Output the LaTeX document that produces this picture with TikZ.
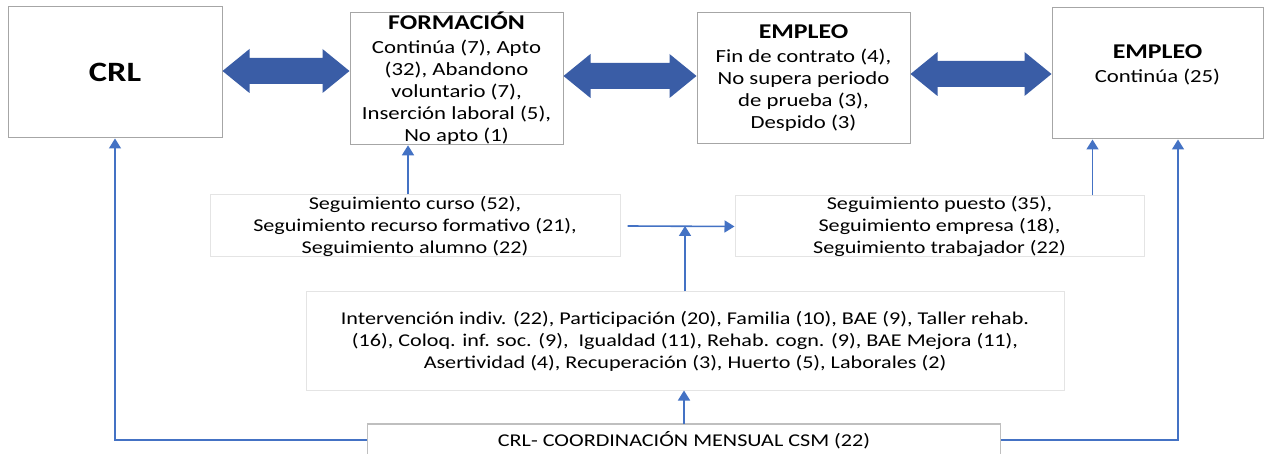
\documentclass[tikz,border=0pt]{standalone}
\usepackage{fontspec}
\setmainfont{Carlito}[FakeStretch=1.23]
\usetikzlibrary{calc,arrows.meta}
\definecolor{arrowblue}{HTML}{3A5DA6}
\definecolor{connblue}{HTML}{4472C4}
\definecolor{boxgray}{HTML}{A6A6A6}
\definecolor{lightgray}{HTML}{E4E4E4}
\definecolor{botgray}{HTML}{BFBFBF}
\newcommand\DblArr[2]{\fill[bigarrow] let \p1=(#1), \p2=(#2) in
  (\x1,\y1) -- (\x1+27pt,\y1+22pt) -- (\x1+27pt,\y1+13pt) -- (\x2-27pt,\y1+13pt) --
  (\x2-27pt,\y1+22pt) -- (\x2,\y1) -- (\x2-27pt,\y1-22pt) -- (\x2-27pt,\y1-13pt) --
  (\x1+27pt,\y1-13pt) -- (\x1+27pt,\y1-22pt) -- cycle;}
\begin{document}
\begin{tikzpicture}[x=1pt,y=-1pt,
  topbox/.style={draw=boxgray, line width=1pt, fill=white, inner sep=0pt, align=center,
     font=\fontsize{18.5}{22}\selectfont},
  lightbox/.style={draw=lightgray, line width=1pt, fill=white, inner sep=0pt, align=center,
     font=\fontsize{18}{22}\selectfont},
  botbox/.style={draw=botgray, line width=1.5pt, fill=white, inner sep=0pt, align=center,
     font=\fontsize{18}{22}\selectfont},
  bigarrow/.style={fill=arrowblue},
  conn/.style={draw=connblue, line width=1.6pt, -{Triangle[length=10pt,width=12pt]}},
  ttl/.style={font=\fontsize{21}{22}\selectfont\bfseries}
]
\useasboundingbox (0,0) rectangle (1269,454);
\fill[white] (0,0) rectangle (1269,454);

% top row
\node[topbox, minimum width=214pt, minimum height=131pt] (crl) at (115,72.5)
  {\fontsize{28}{30}\selectfont\bfseries CRL};
\node[topbox, minimum width=213pt, minimum height=131pt] (form) at (456.5,78.5)
  {{\fontsize{21}{22}\selectfont\bfseries FORMACIÓN}\\[2pt]
   Continúa (7), Apto\\(32), Abandono\\voluntario (7),\\Inserción laboral (5),\\No apto (1)};
\node[topbox, minimum width=213pt, minimum height=131pt] (emp1) at (803.5,78.5)
  {{\fontsize{21}{22}\selectfont\bfseries EMPLEO}\\[2pt]
   Fin de contrato (4),\\No supera periodo\\de prueba (3),\\Despido (3)};
\node[topbox, minimum width=211pt, minimum height=131pt] (emp2) at (1157.5,73.5) {};
\node[align=center, font=\fontsize{18.5}{22}\selectfont, inner sep=0pt] (emp2t) at (1157.5,64.5)
  {{\fontsize{21}{22}\selectfont\bfseries EMPLEO}\\[2pt]Continúa (25)};

% middle row
\node[lightbox, minimum width=410pt, minimum height=62pt] (segL) at (415,226)
  {Seguimiento curso (52),\\Seguimiento recurso formativo (21),\\Seguimiento alumno (22)};
\node[lightbox, minimum width=409pt, minimum height=61pt] (segR) at (939.5,226.5)
  {Seguimiento puesto (35),\\Seguimiento empresa (18),\\Seguimiento trabajador (22)};

\node[lightbox, minimum width=758pt, minimum height=98pt] (big) at (685,341)
  {Intervención indiv. (22), Participación (20), Familia (10), BAE (9), Taller rehab.\\
   (16), Coloq. inf. soc. (9),\ \ Igualdad (11), Rehab. cogn. (9), BAE Mejora (11),\\
   Asertividad (4), Recuperación (3), Huerto (5), Laborales (2)};

\node[botbox, minimum width=633pt, minimum height=32pt] (bot) at (684,440)
  {CRL- COORDINACIÓN MENSUAL CSM (22)};

% big double arrows
\coordinate (a1) at ($(crl.east)+(0,-1.5)$);
\coordinate (a2) at ($(form.east)+(0,-2.5)$);
\coordinate (a3) at ($(emp1.east)+(0,-4.5)$);
\DblArr{a1}{form.west}
\DblArr{a2}{emp1.west}
\DblArr{a3}{emp2.west}

% connectors
\coordinate (e2a) at ([xshift=-65pt]emp2.south);
\coordinate (e2b) at ([xshift=20.5pt]emp2.south);
\coordinate (sl) at ([xshift=-7pt]segL.north);
\coordinate (sle) at ([xshift=7pt]segL.east);
\draw[conn] (sl) -- (sl |- form.south);
\draw[conn] (sle) -- (segR.west);
\draw[conn] (big.north) -- (big.north |- segL.east);
\draw[conn] (e2a |- segR.north) -- (e2a);
\draw[conn] (bot.west) -| (crl.south);
\draw[conn] (bot.east) -| (e2b);
\draw[conn] ([yshift=-0.75pt]bot.north) -- (bot.north |- big.south);
\end{tikzpicture}
\end{document}
